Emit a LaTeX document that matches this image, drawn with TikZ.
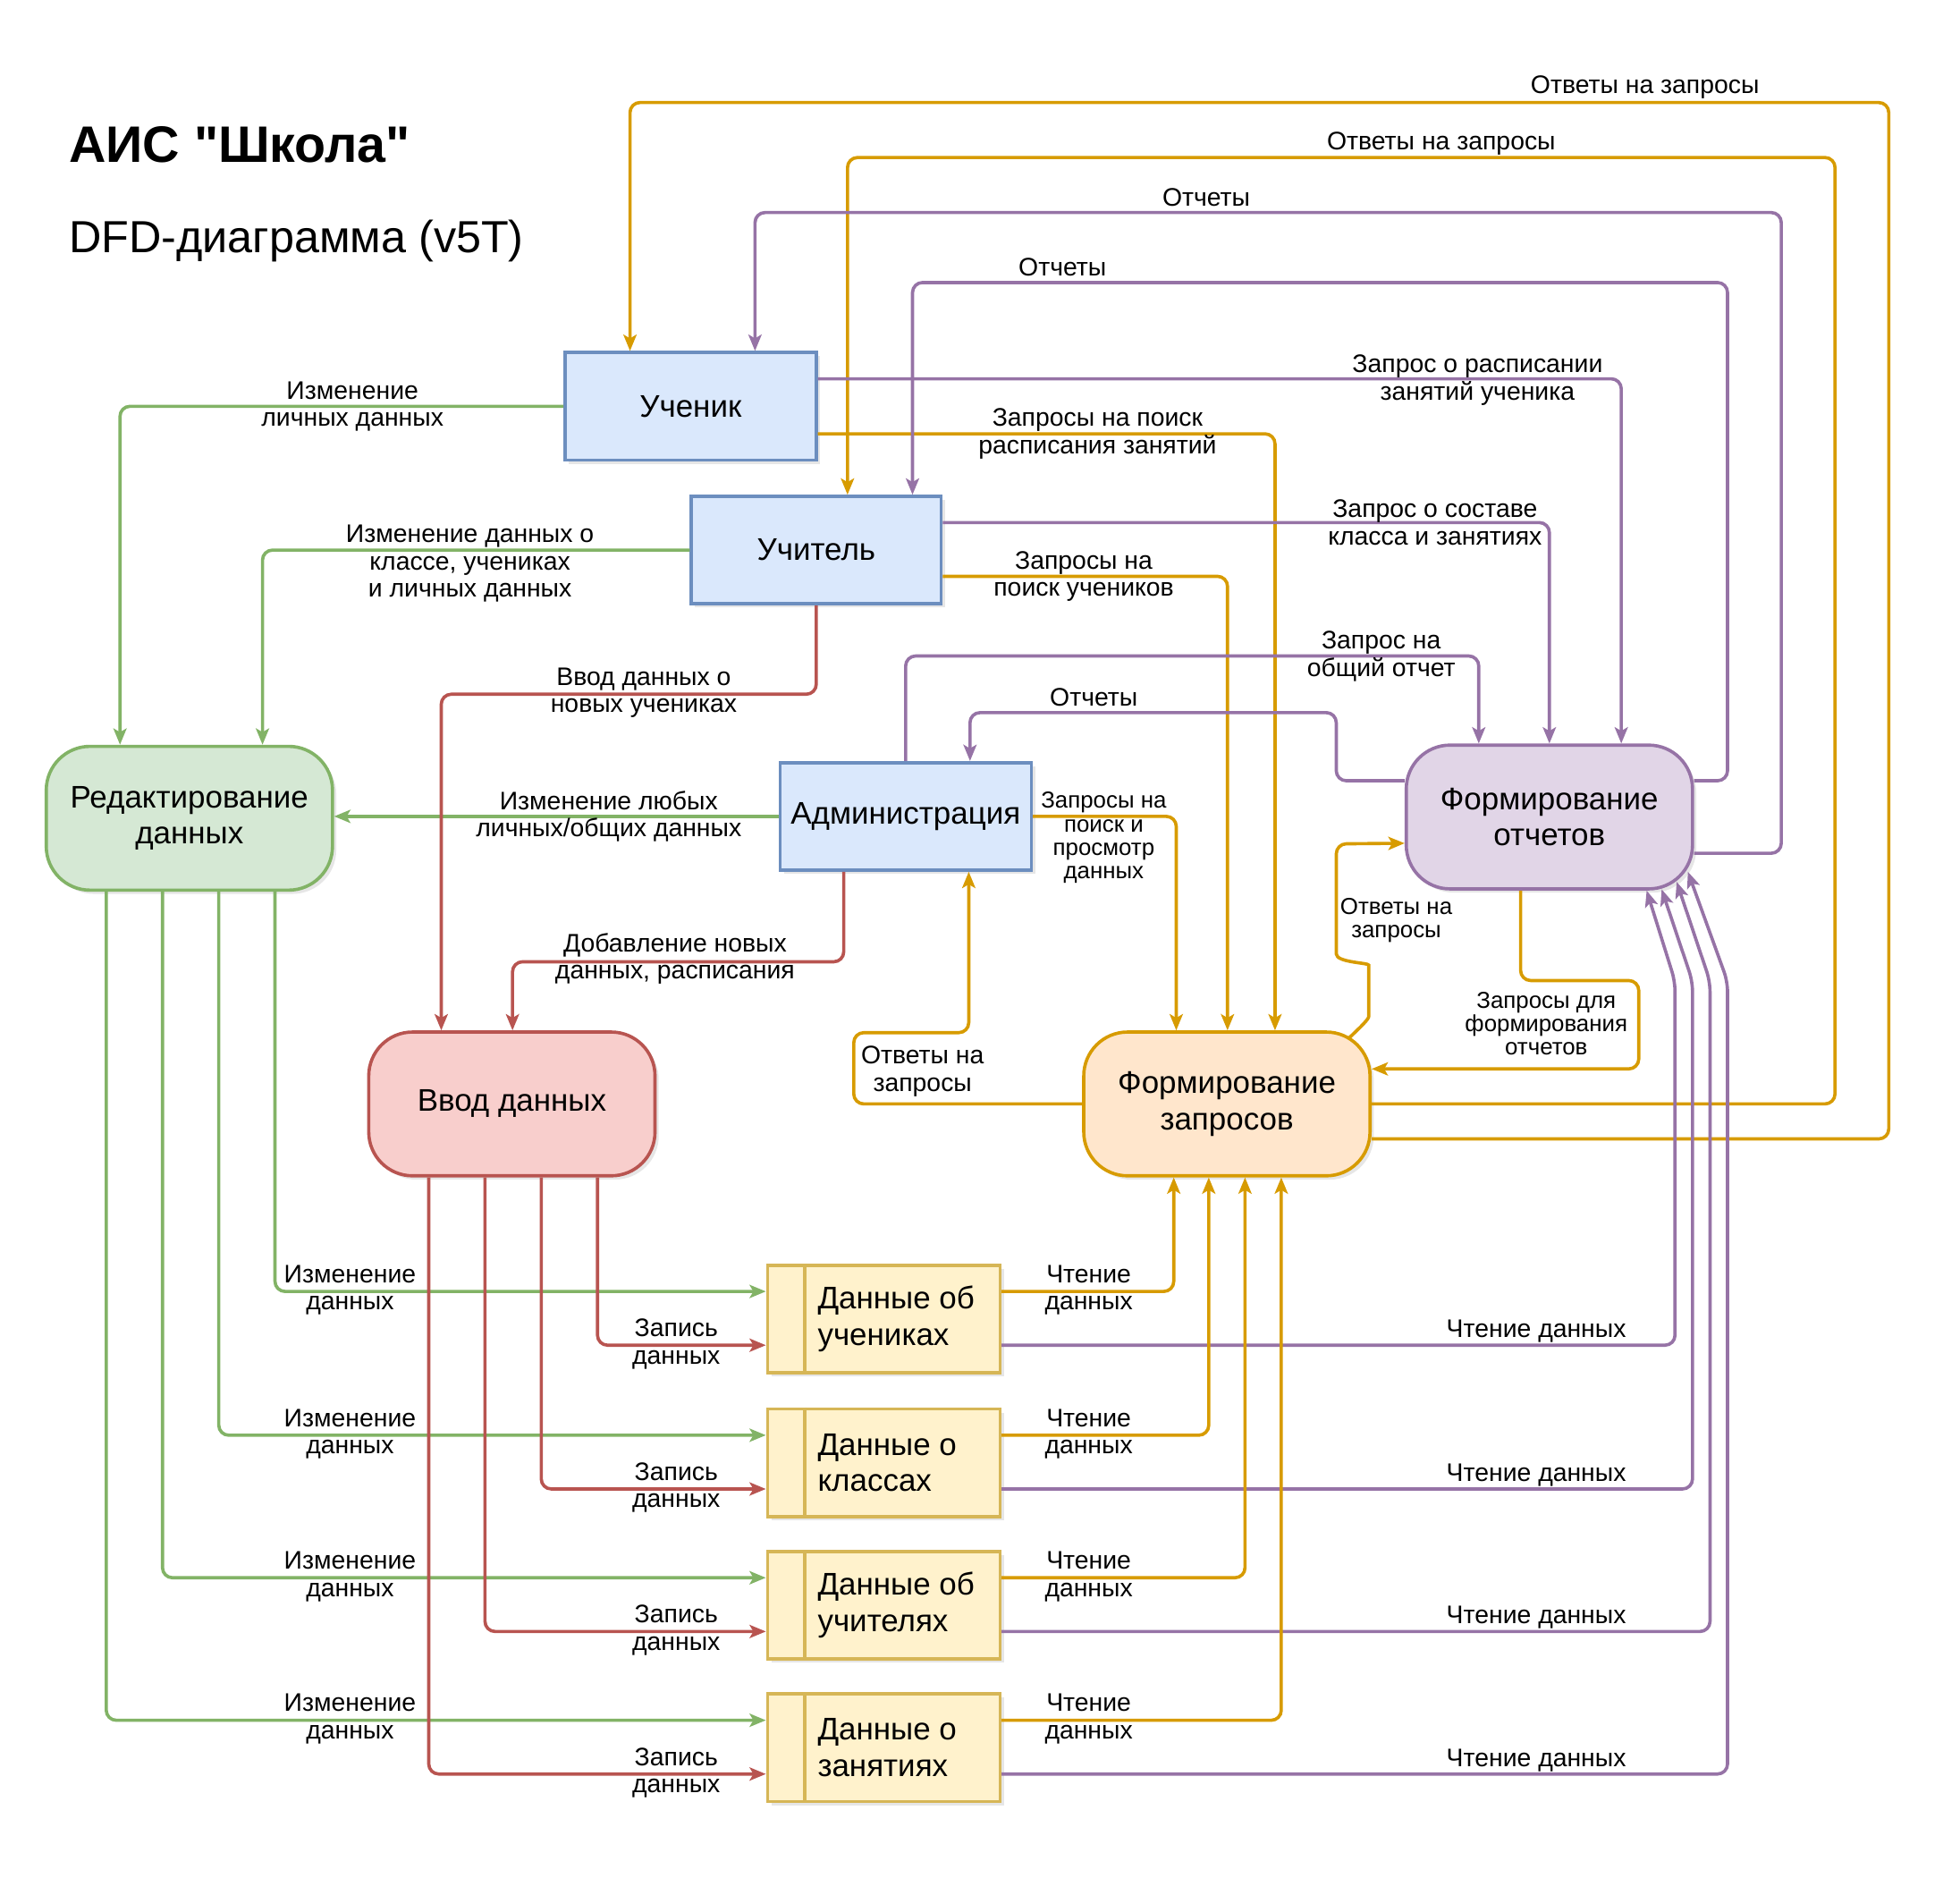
\documentclass[tikz,border=0pt]{standalone}
\usepackage{fontspec}
\setmainfont{Liberation Sans}[Ligatures=TeXOff]
\usetikzlibrary{arrows.meta,shadows,calc}
\definecolor{blueD}{HTML}{6C8EBF}
\definecolor{blueL}{HTML}{DAE8FC}
\definecolor{greenD}{HTML}{82B366}
\definecolor{greenL}{HTML}{D5E8D4}
\definecolor{redD}{HTML}{B85450}
\definecolor{redL}{HTML}{F8CECC}
\definecolor{orangeD}{HTML}{D79B00}
\definecolor{orangeL}{HTML}{FFE6CC}
\definecolor{purpleD}{HTML}{9673A6}
\definecolor{purpleL}{HTML}{E1D5E7}
\definecolor{yellowD}{HTML}{D6B656}
\definecolor{yellowL}{HTML}{FFF2CC}
\tikzset{
  >={Stealth[length=13pt,width=10.5pt,inset=3pt]},
  entity/.style={draw=blueD,fill=blueL,line width=2.6pt,minimum width=201pt,minimum height=86pt,
    font=\fontsize{25}{29}\selectfont,drop shadow={opacity=0.2,shadow xshift=3pt,shadow yshift=-3pt}},
  process/.style={draw=#1D,fill=#1L,line width=2.6pt,rounded corners=35pt,minimum width=229pt,
    minimum height=115pt,align=center,font=\fontsize{25}{29}\selectfont,
    drop shadow={opacity=0.2,shadow xshift=3pt,shadow yshift=-3pt}},
  store/.style={draw=yellowD,fill=yellowL,line width=2.6pt,minimum width=186pt,minimum height=86pt,
    drop shadow={opacity=0.2,shadow xshift=3pt,shadow yshift=-3pt}},
  storetext/.style={font=\fontsize{25}{29}\selectfont,align=left,inner sep=0pt,anchor=west},
  flow/.style={->,line width=2.6pt,draw=#1D,rounded corners=8pt},
  lbl/.style={font=\fontsize{20.3}{21.8}\selectfont,align=center,inner sep=0pt},
  lbl small/.style={lbl,font=\fontsize{18.5}{18.7}\selectfont},
  title/.style={font=\bfseries\fontsize{41}{46}\selectfont,anchor=base west,inner sep=0pt},
  subtitle/.style={font=\fontsize{36}{42}\selectfont,anchor=base west,inner sep=0pt},
}
\begin{document}
\begin{tikzpicture}[x=1pt,y=-1pt]
  \useasboundingbox (0,0) rectangle (1568,1502);
  \node[title] (title) at (55,130) {АИС "Школа"};
  \node[subtitle] (subtitle) at (55,202) {DFD-диаграмма (v5T)};

  % actors and processes
  \node[entity] (pupil) at (552.5,325) {Ученик};
  \node[entity,minimum width=200pt] (teacher) at (653,440) {Учитель};
  \node[entity] (admin) at (724.5,653) {Администрация};
  \node[process=green] (edit) at (151.5,654.5) {Редактирование\\данных};
  \node[process=red] (entry) at (409.5,883) {Ввод данных};
  \node[process=orange] (query) at (981.5,883) {Формирование\\запросов};
  \node[process=purple] (report) at (1239.5,653.5) {Формирование\\отчетов};

  % inputs of the editing process
  \draw[flow=green] (pupil.west) -| (96,0 |- edit.north);
  \draw[flow=green] (teacher.west) -| (210,0 |- edit.north);
  \draw[flow=green] (admin.west) -- (admin.west -| edit.east);
  \node[lbl] (lPupilEdit) at (282,325) {Изменение\\личных данных};
  \node[lbl] (lTeacherEdit) at (376,451) {Изменение данных о\\классе, учениках\\и личных данных};
  \node[lbl] (lAdminEdit) at (487,653) {Изменение любых\\личных/общих данных};

  % inputs of the entry process
  \draw[flow=red] (teacher.south) -- ++(0,71) -| (353,0 |- entry.north);
  \draw[flow=red] (675,0 |- admin.south) -- ++(0,72) -| (410,0 |- entry.north);
  \node[lbl] (lTeacherEntry) at (515,554) {Ввод данных о\\новых учениках};
  \node[lbl] (lAdminEntry) at (540,767) {Добавление новых\\данных, расписания};

  % queries
  \draw[flow=orange] ([shift={(0,28)}]query.east) -| (1511,82) -| (504,0 |- pupil.north);
  \draw[flow=orange] (query.east) -| (1468,126) -| (678,0 |- teacher.north);
  \draw[flow=orange] ([shift={(0,22)}]pupil.east) -| (1020,0 |- query.north);
  \draw[flow=orange] ([shift={(0,21)}]teacher.east) -| (982,0 |- query.north);
  \draw[flow=orange] (admin.east) -| (941,0 |- query.north);
  \draw[flow=orange] (query.west) -| (683,826) -| (775,0 |- admin.south);
  \draw[flow=orange] ([shift={(-18,6)}]query.north east) .. controls (1090,820) and (1095,815) .. (1095,805)
    -- (1095,780) .. controls (1095,770) and (1069,770) .. (1069,755) -- (1069,675) -- ([shift={(0,21)}]report.west);
  \draw[flow=orange] ([shift={(-23,0)}]report.south) -- ++(0,72) -| (1311,855) -- ([shift={(0,-28)}]query.east);
  \node[lbl] (lAnswerPupil) at (1316,70) {Ответы на запросы};
  \node[lbl] (lAnswerTeacher) at (1153,115) {Ответы на запросы};
  \node[lbl] (lPupilQuery) at (878,347) {Запросы на поиск\\расписания занятий};
  \node[lbl] (lTeacherQuery) at (867,461) {Запросы на\\поиск учеников};
  \node[lbl small] (lAdminQuery) at (883,670) {Запросы на\\поиск и\\просмотр\\данных};
  \node[lbl] (lAnswerAdmin) at (738,857) {Ответы на\\запросы};
  \node[lbl small] (lAnswerReport) at (1117,736) {Ответы на\\запросы};
  \node[lbl small] (lReportQuery) at (1237,819) {Запросы для\\формирования\\отчетов};

  % reports
  \draw[flow=purple] ([shift={(0,29)}]report.east) -| (1425,170) -| (604,0 |- pupil.north);
  \draw[flow=purple] ([shift={(0,-29)}]report.east) -| (1382,226) -| (730,0 |- teacher.north);
  \draw[flow=purple] ([shift={(0,-22)}]pupil.east) -| (1297,0 |- report.north);
  \draw[flow=purple] ([shift={(0,-22)}]teacher.east) -| (report.north);
  \draw[flow=purple] (admin.north) -- ++(0,-84) -| (1183,0 |- report.north);
  \draw[flow=purple] ([shift={(0,-29)}]report.west) -| (1069,570) -| (776,0 |- admin.north);
  \node[lbl] (lReportPupil) at (965,158) {Отчеты};
  \node[lbl] (lReportTeacher) at (850,214) {Отчеты};
  \node[lbl] (lReportAdmin) at (875,558) {Отчеты};
  \node[lbl] (lPupilReport) at (1182,304) {Запрос о расписании\\занятий ученика};
  \node[lbl] (lTeacherReport) at (1148,418) {Запрос о составе\\класса и занятиях};
  \node[lbl] (lAdminReport) at (1105,525) {Запрос на\\общий отчет};

  % data stores
  \foreach \st/\y/\txt/\gx/\rx/\ox/\px/\tip in {
      pupils/1055/{Данные об\\учениках}/220/478/939/1340/{(-38,0)},
      classes/1170/{Данные о\\классах}/175/433/967/1354/{(-26,-1)},
      teachers/1284/{Данные об\\учителях}/130/388/996/1368/{(-14,-7)},
      lessons/1398/{Данные о\\занятиях}/85/343/1025/1382/{(-5,-15)}}{
    \node[store] (\st) at (707,\y) {};
    \draw[yellowD,line width=2.6pt] ([xshift=31pt]\st.north west) -- ([xshift=31pt]\st.south west);
    \node[storetext] (\st-t) at (654,\y) {\txt};
    \draw[flow=green] (\gx,0 |- edit.south) |- ([shift={(0,-22)}]\st.west);
    \draw[flow=red] (\rx,0 |- entry.south) |- ([shift={(0,21)}]\st.west);
    \draw[flow=orange] ([shift={(0,-22)}]\st.east) -| (\ox,0 |- query.south);
    \draw[flow=purple] ([shift={(0,21)}]\st.east) -| (\px,785) -- ([shift={\tip}]report.south east);
    \node[lbl] (\st-lg) at (280,\y-23) {Изменение\\данных};
    \node[lbl] (\st-lr) at (541,\y+20) {Запись\\данных};
    \node[lbl] (\st-lo) at (871,\y-23) {Чтение\\данных};
    \node[lbl] (\st-lp) at (1229,\y+10) {Чтение данных};
  }
\end{tikzpicture}
\end{document}
